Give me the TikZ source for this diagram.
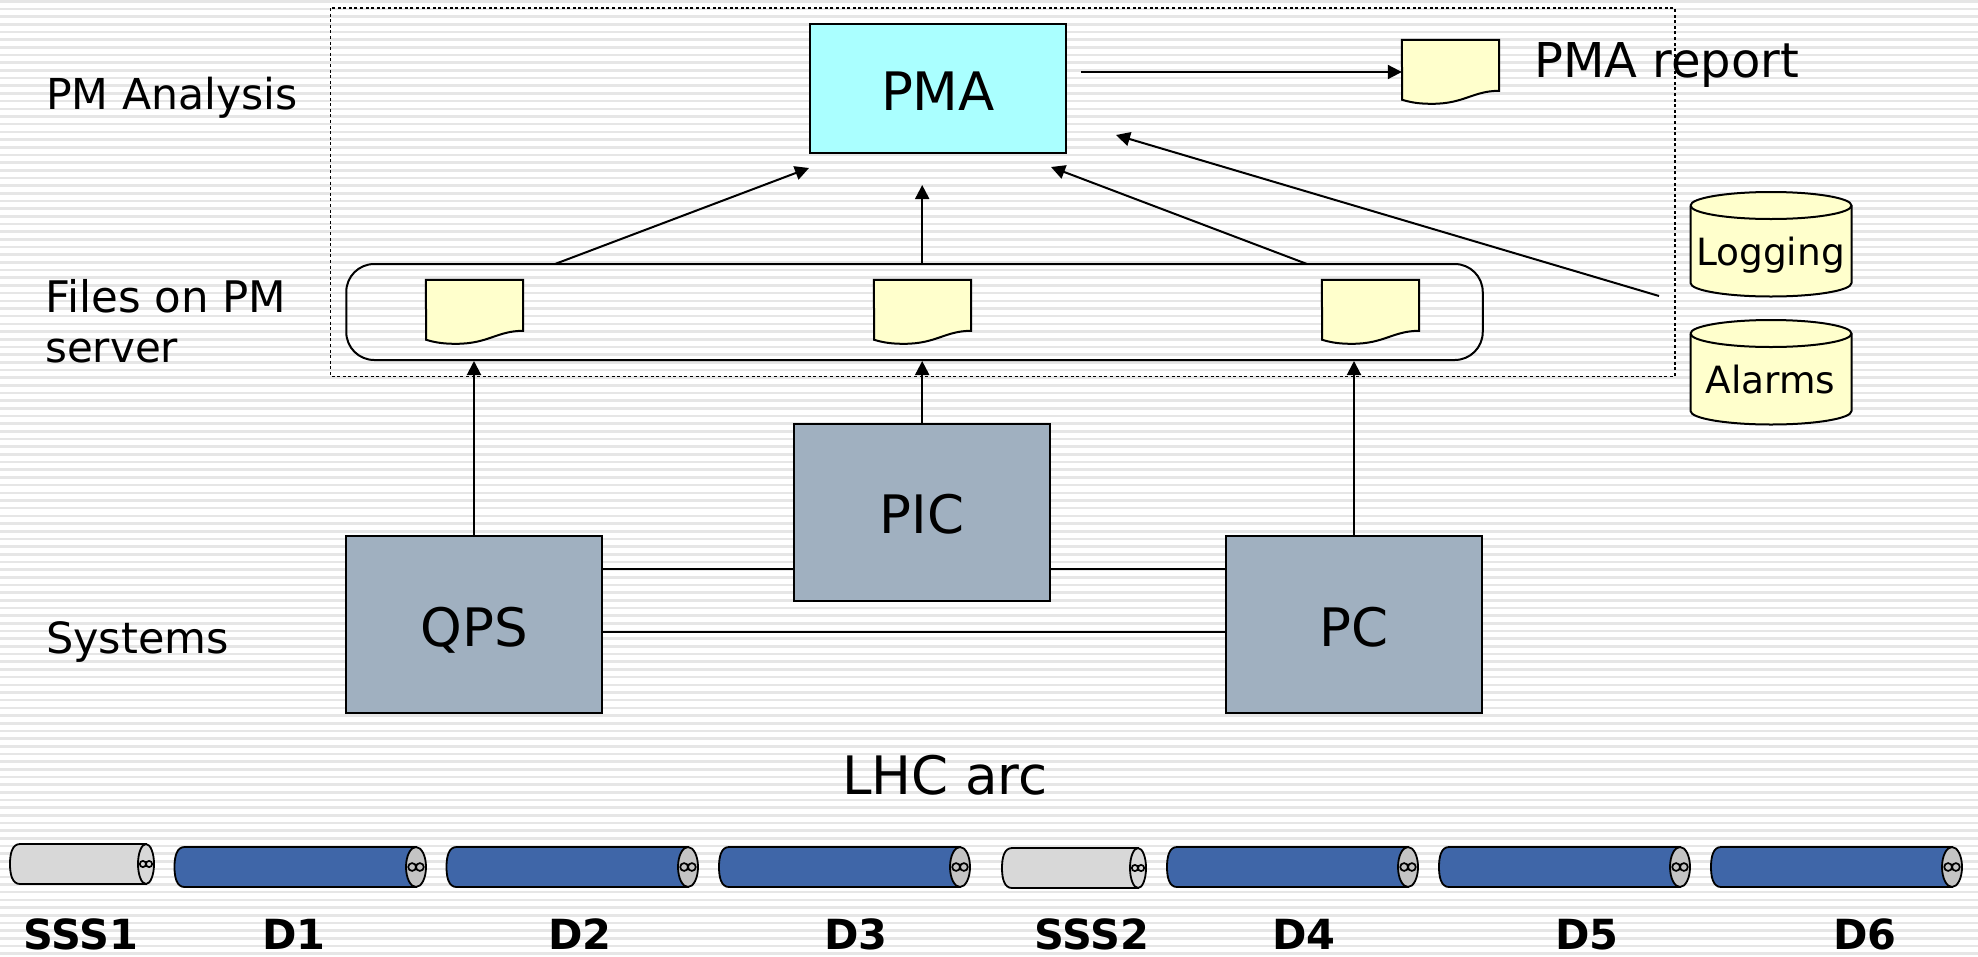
\documentclass[tikz,border=0pt]{standalone}
\usepackage{fontspec}
\setmainfont{DejaVu Sans}
\usetikzlibrary{arrows.meta,shapes.geometric}
\definecolor{stripe}{HTML}{E6E6E6}
\definecolor{pmacyan}{HTML}{AAFFFF}
\definecolor{docyellow}{HTML}{FFFFCC}
\definecolor{sysgray}{HTML}{A0B0C0}
\definecolor{dipole}{HTML}{3F66A8}
\definecolor{sssgray}{HTML}{D8D8D8}
\definecolor{endgray}{HTML}{C4C4C4}
\tikzset{
  ln/.style={line width=2pt,black},
  conn/.style={ln,-{Triangle[length=14pt,width=14pt]}},
  sysbox/.style={draw,line width=2pt,fill=sysgray,inner sep=0pt,minimum width=256pt,minimum height=177pt,font=\fontsize{53}{60}\selectfont,text height=43.6pt,text depth=0pt},
  pmabox/.style={draw,line width=2pt,fill=pmacyan,inner sep=0pt,minimum width=256pt,minimum height=129pt,font=\fontsize{53}{60}\selectfont,text height=43.6pt,text depth=0pt},
  docnode/.style={inner sep=0pt,minimum width=97pt,minimum height=64pt},
  lbl/.style={inner sep=0pt,anchor=base west,font=\fontsize{43}{50}\selectfont},
  biglbl/.style={inner sep=0pt,anchor=base west,font=\fontsize{53}{60}\selectfont},
  dbtxt/.style={inner sep=0pt,anchor=base,font=\fontsize{37.5}{44}\selectfont},
  cyltxt/.style={inner sep=0pt,anchor=base,font=\bfseries\fontsize{41.5}{46}\selectfont},
}
% document symbol: #1 name, #2 centre x, #3 centre y
\newcommand{\docsym}[3]{%
  \node[docnode] (#1) at (#2,#3) {};
  \draw[ln,fill=docyellow] (#1.north west) -- (#1.north east) -- ++(0,51)
    .. controls +(-26,0) and +(32,0) .. ++(-67,13)
    .. controls +(-12,0) and +(10,3) .. ++(-30,-4) -- cycle;
}
% database cylinder: #1 name, #2 top y, #3 text
\newcommand{\dbsym}[3]{%
  \draw[ln,fill=docyellow] (1690.5,#2+13.5) -- (1690.5,#2+91)
    arc[start angle=180,end angle=0,x radius=80.5,y radius=13.5]
    -- (1851.5,#2+13.5) arc[start angle=360,end angle=180,x radius=80.5,y radius=13.5];
  \draw[ln] (1690.5,#2+13.5) arc[start angle=180,end angle=0,x radius=80.5,y radius=13.5];
  \node[dbtxt] (#1) at (1770.5,#2+73) {#3};
}
% magnet: #1 name, #2 left, #3 end centre, #4 top, #5 bottom, #6 fill, #7 end fill, #8 end rx, #9 eye radius
\newcommand{\magnet}[9]{%
  \coordinate (#1) at (#3,{(#4+#5)/2});
  \draw[line width=1.8pt,fill=#6] (#3,#4) -- (#2+10,#4)
    .. controls (#2+2,#4) and (#2,{#4+10}) .. (#2,{(#4+#5)/2})
    .. controls (#2,{#5-10}) and (#2+2,#5) .. (#2+10,#5) -- (#3,#5) -- cycle;
  \draw[line width=1.8pt,fill=#7] (#1) ellipse[x radius=#8,y radius={(#5-#4)/2}];
  \draw[line width=1.7pt] (#3-#9,{(#4+#5)/2}) circle[radius=#9] (#3+#9,{(#4+#5)/2}) circle[radius=#9];
}
\begin{document}
\begin{tikzpicture}[x=1pt,y=-1pt]
\useasboundingbox (0,0) rectangle (1978,956);
\fill[white] (0,0) rectangle (1978,956);
\foreach \i in {0,...,124} \fill[stripe] (0,{\i*7.68}) rectangle (1978,{\i*7.68+2.6});

% dotted frame
\draw[line width=1.7pt,dash pattern=on 3pt off 2.6pt] (330.5,8) rectangle (1675,376.5);

% rounded container
\node[draw,line width=2pt,rounded corners=28pt,inner sep=0pt,minimum width=1136.5pt,minimum height=96pt] (store) at (914.5,312) {};

% PMA
\node[pmabox] (pma) at (938,88.5) {PMA};
\docsym{report}{1450.5}{72}
\docsym{f1}{474.5}{312}
\docsym{f2}{922.5}{312}
\docsym{f3}{1370.5}{312}

% systems
\node[sysbox] (qps) at (474,624.5) {QPS};
\node[sysbox] (pic) at (922.2,512) {PIC};
\node[sysbox] (pc) at (1354,624.5) {PC};

% databases
\dbsym{logging}{192}{Logging}
\dbsym{alarms}{320}{Alarms}

% connector anchors
\coordinate (pmaOut) at (1081,72);
\coordinate (storeA) at (555,264);
\coordinate (storeB) at (922.2,264);
\coordinate (storeC) at (1307,264);
\coordinate (pmaA) at (809,168);
\coordinate (pmaB) at (922.2,185);
\coordinate (pmaC) at (1051,167);
\coordinate (pmaD) at (1116,135);
\coordinate (dbOut) at (1659,296);

\draw[conn] (pmaOut) -- (pmaOut -| report.west);
\draw[conn] (storeA) -- (pmaA);
\draw[conn] (storeB) -- (pmaB);
\draw[conn] (storeC) -- (pmaC);
\draw[conn] (dbOut) -- (pmaD);
\draw[conn] (qps.north) -- (qps.north |- store.south);
\draw[conn] (pic.north) -- (pic.north |- store.south);
\draw[conn] (pc.north) -- (pc.north |- store.south);

\coordinate (y1) at (0,569);
\coordinate (y2) at (0,632);
\draw[ln] (qps.east |- y1) -- (pic.west |- y1);
\draw[ln] (pic.east |- y1) -- (pc.west |- y1);
\draw[ln] (qps.east |- y2) -- (pc.west |- y2);

% labels
\node[lbl,font=\fontsize{42.6}{50}\selectfont] (lana) at (46,109.5) {PM Analysis};
\node[lbl,font=\fontsize{43.5}{50}\selectfont] (lfiles) at (45,312) {Files on PM};
\node[lbl,font=\fontsize{42}{50}\selectfont] (lserver) at (45,362) {server};
\node[lbl] (lsys) at (46,653) {Systems};
\node[biglbl,font=\fontsize{48}{56}\selectfont] (lrep) at (1534,77) {PMA report};
\node[biglbl] (larc) at (842,794.5) {LHC arc};

% magnets
\magnet{m1}{10}{146}{844}{884}{sssgray}{sssgray}{8}{3.1}
\magnet{m2}{174.5}{416}{847}{887}{dipole}{endgray}{10}{3.9}
\magnet{m3}{446.5}{688}{847}{887}{dipole}{endgray}{10}{3.9}
\magnet{m4}{719}{960}{847}{887}{dipole}{endgray}{10}{3.9}
\magnet{m5}{1002}{1138}{848}{888}{sssgray}{sssgray}{8}{3.1}
\magnet{m6}{1167}{1408}{847}{887}{dipole}{endgray}{10}{3.9}
\magnet{m7}{1439}{1680}{847}{887}{dipole}{endgray}{10}{3.9}
\magnet{m8}{1711}{1952}{847}{887}{dipole}{endgray}{10}{3.9}

\node[cyltxt] (t1) at (81,949) {SSS1};
\node[cyltxt] (t2) at (294,949) {D1};
\node[cyltxt] (t3) at (580,949) {D2};
\node[cyltxt] (t4) at (856,949) {D3};
\node[cyltxt] (t5) at (1092,949) {SSS2};
\node[cyltxt] (t6) at (1304,949) {D4};
\node[cyltxt] (t7) at (1587,949) {D5};
\node[cyltxt] (t8) at (1865,949) {D6};
\end{tikzpicture}
\end{document}
